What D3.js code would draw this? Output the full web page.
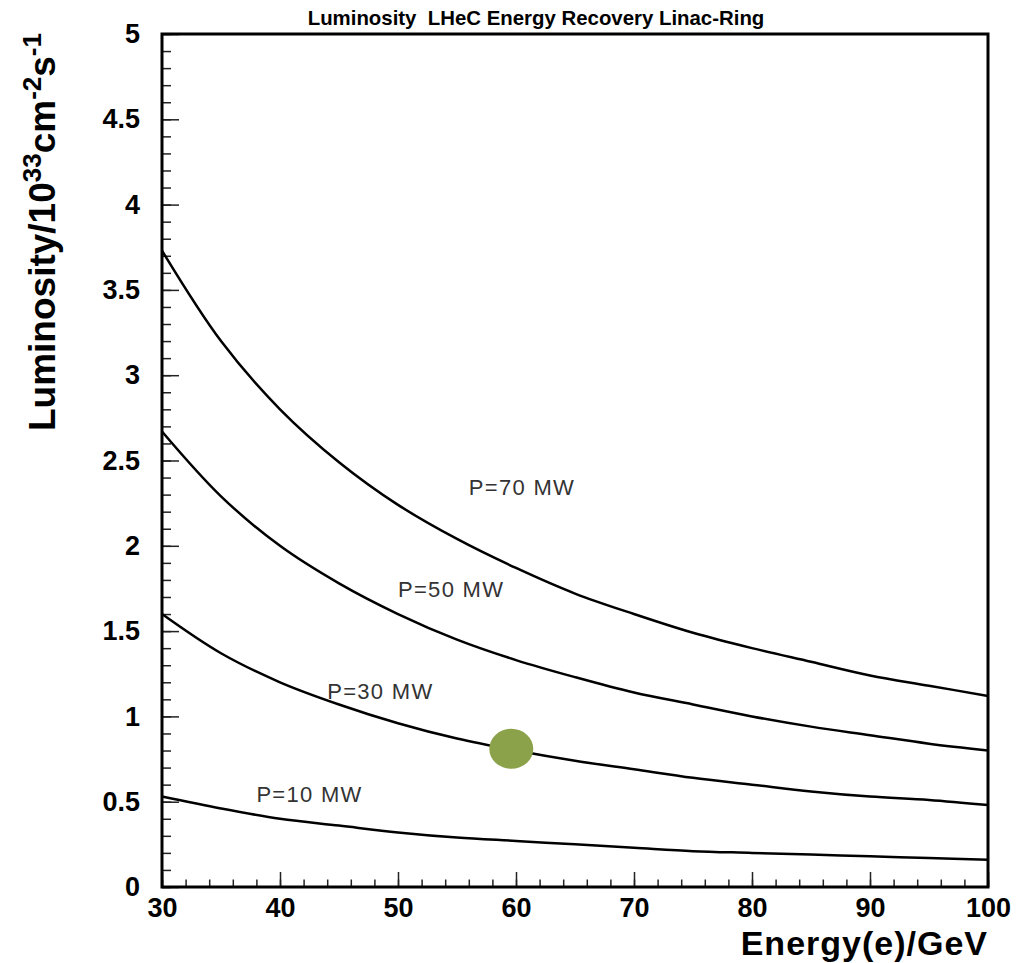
<!DOCTYPE html>
<html>
<head>
<meta charset="utf-8">
<script src="https://cdn.jsdelivr.net/npm/d3@7"></script>
<style>
  body { margin: 0; background: #fff; }
  text { font-family: "Liberation Sans", Arial, sans-serif; }
</style>
</head>
<body>
<div id="chart"></div>
<script>
// values
const energy = [30, 35, 40, 45, 50, 55, 60, 65, 70, 75, 80, 85, 90, 95, 100];
const lumi70 = [3.73, 3.20, 2.80, 2.49, 2.24, 2.04, 1.87, 1.72, 1.60, 1.49, 1.40, 1.32, 1.24, 1.18, 1.12];
const lumi50 = [2.67, 2.29, 2.00, 1.78, 1.60, 1.45, 1.33, 1.23, 1.14, 1.07, 1.00, 0.94, 0.89, 0.84, 0.80];
const lumi30 = [1.60, 1.37, 1.20, 1.07, 0.96, 0.87, 0.80, 0.74, 0.69, 0.64, 0.60, 0.56, 0.53, 0.51, 0.48];
const lumi10 = [0.53, 0.46, 0.40, 0.36, 0.32, 0.29, 0.27, 0.25, 0.23, 0.21, 0.20, 0.19, 0.18, 0.17, 0.16];

const seriesNames = ["P=70 MW", "P=50 MW", "P=30 MW", "P=10 MW"];
const seriesValues = [lumi70, lumi50, lumi30, lumi10];
// label anchors in data units (energy, luminosity)
const labelE = [56, 50, 44, 38];
const labelL = [2.3, 1.7, 1.1, 0.5];

// design point
const pointE = 59.6, pointL = 0.81;

const xTicks = [30, 40, 50, 60, 70, 80, 90, 100];
const yTicks = [0, 0.5, 1, 1.5, 2, 2.5, 3, 3.5, 4, 4.5, 5];

const W = 1029, H = 963;
const margin = {top: 34, right: 41, bottom: 76, left: 162},
    width = W - margin.left - margin.right,
    height = H - margin.top - margin.bottom;

const x = d3.scaleLinear().domain([30, 100]).range([0, width]);
const y = d3.scaleLinear().domain([0, 5]).range([height, 0]);

const line = d3.line()
    .x(function(d) { return x(d[0]); })
    .y(function(d) { return y(d[1]); })
    .curve(d3.curveCatmullRom);

const svg = d3.select('#chart').append('svg')
    .attr('width', W).attr('height', H);

const g = svg.append('g').attr('transform', 'translate(' + margin.left + ',' + margin.top + ')');

// minor ticks
g.append('g')
    .attr('class', 'axis x-minor')
    .attr('transform', 'translate(0,' + height + ')')
    .call(d3.axisBottom(x).tickValues(d3.range(30, 100.01, 2)).tickSize(-7.5).tickSizeOuter(0).tickFormat(''));
g.append('g')
    .attr('class', 'axis y-minor')
    .call(d3.axisLeft(y).tickValues(d3.range(0, 5.001, 0.1)).tickSize(-9).tickSizeOuter(0).tickFormat(''));

// major ticks + labels
g.append('g')
    .attr('class', 'axis x-major')
    .attr('transform', 'translate(0,' + height + ')')
    .call(d3.axisBottom(x).tickValues(xTicks).tickSize(-15).tickSizeOuter(0).tickPadding(11).tickFormat(d3.format('d')));
g.append('g')
    .attr('class', 'axis y-major')
    .call(d3.axisLeft(y).tickValues(yTicks).tickSize(-17).tickSizeOuter(0).tickPadding(22).tickFormat(d3.format('')));

g.selectAll('.axis .domain').remove();
g.selectAll('.axis line').attr('stroke', '#222').attr('stroke-width', 1.5);
g.selectAll('.axis text')
    .attr('fill', '#000')
    .style('font-size', '27px')
    .style('font-weight', 'bold');

// curves
seriesValues.forEach(function(vals, i) {
    g.append('path')
        .datum(energy.map(function(e, j) { return [e, vals[j]]; }))
        .attr('fill', 'none')
        .attr('stroke', '#000')
        .attr('stroke-width', 2.5)
        .attr('d', line);

    g.append('text')
        .attr('x', x(labelE[i]))
        .attr('y', y(labelL[i]))
        .style('font-size', '22px')
        .style('letter-spacing', '1.3px')
        .attr('fill', '#333')
        .text(seriesNames[i]);
});

g.append('ellipse')
    .attr('cx', x(pointE))
    .attr('cy', y(pointL))
    .attr('rx', 22)
    .attr('ry', 20)
    .attr('fill', '#8ba24b');

// frame
g.append('rect')
    .attr('width', width)
    .attr('height', height)
    .attr('fill', 'none')
    .attr('stroke', '#000')
    .attr('stroke-width', 3);

// title
svg.append('text')
    .attr('x', 536)
    .attr('y', 25)
    .attr('text-anchor', 'middle')
    .attr('xml:space', 'preserve')
    .style('white-space', 'pre')
    .style('font-size', '20.4px')
    .style('font-weight', 'bold')
    .text('Luminosity  LHeC Energy Recovery Linac-Ring');

// x title
svg.append('text')
    .attr('x', margin.left + width)
    .attr('y', 955)
    .attr('text-anchor', 'end')
    .style('font-size', '34px')
    .style('letter-spacing', '1px')
    .style('font-weight', 'bold')
    .text('Energy(e)/GeV');

// y title
const yt = svg.append('text')
    .attr('transform', 'translate(55,33) rotate(-90)')
    .attr('text-anchor', 'end')
    .style('font-size', '37px')
    .style('font-weight', 'bold');
yt.append('tspan').text('Luminosity/10');
yt.append('tspan').attr('dy', -14).style('font-size', '26px').text('33');
yt.append('tspan').attr('dy', 14).text('cm');
yt.append('tspan').attr('dy', -14).style('font-size', '26px').text('-2');
yt.append('tspan').attr('dy', 14).text('s');
yt.append('tspan').attr('dy', -14).style('font-size', '26px').text('-1');
</script>
</body>
</html>
